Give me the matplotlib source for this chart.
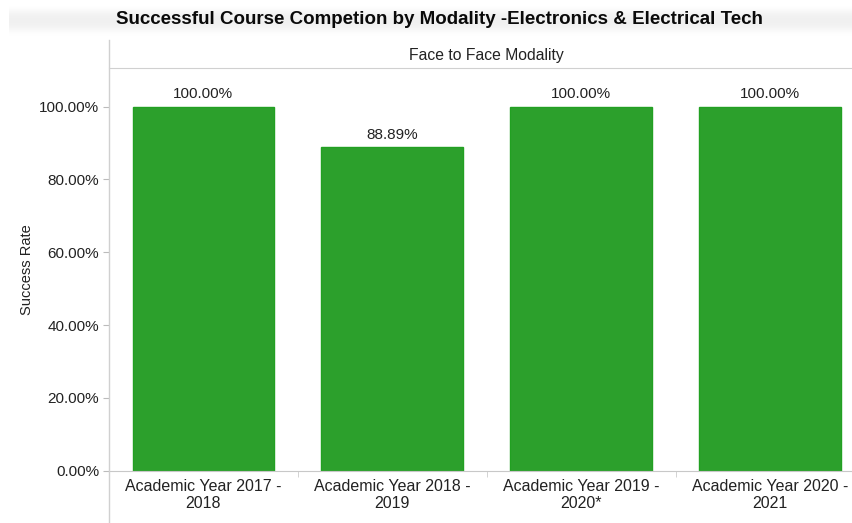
import matplotlib.pyplot as plt
import numpy as np

plt.rcParams['font.family'] = ['Liberation Sans', 'DejaVu Sans']

# Success rate per academic year (face to face)
years = ["Academic Year 2017 -\n2018", "Academic Year 2018 -\n2019",
         "Academic Year 2019 -\n2020*", "Academic Year 2020 -\n2021"]
rates = [100.00, 88.89, 100.00, 100.00]
yticks = [0, 20, 40, 60, 80, 100]

W, H = 852, 523
fig = plt.figure(figsize=(W / 100, H / 100), dpi=100)

# soft gray band behind the title
band = fig.add_axes([0.01, 1 - 36 / H, 0.99, 30 / H])
prof = np.array([0.0, 0.7, 1.0, 1.0, 0.7, 0.0])
band.imshow(prof[:, None] * np.ones((1, 40)), cmap='Greys', vmin=0, vmax=8,
            aspect='auto', interpolation='bicubic')
band.axis('off')

fig.text(0.5 * (113 + 765) / W, 1 - 20 / H,
         "Successful Course Competion by Modality -Electronics & Electrical Tech",
         ha='center', va='center', fontsize=13.5, fontweight='bold', color='#0a0a0a')

x0, x1 = 109, 864.5
y_top, y_bot = 68.3, 470.7
ax = fig.add_axes([x0 / W, 1 - y_bot / H, (x1 - x0) / W, (y_bot - y_top) / H])

pos = np.arange(len(years))
ax.bar(pos, rates, width=0.75, color='#2ca02c', edgecolor='#22a022', linewidth=1)
for p, r in zip(pos, rates):
    ax.text(p, r + 1.5, f"{r:.2f}%", ha='center', va='bottom', fontsize=11, color='#222222')

ax.set_xlim(-0.5, len(years) - 0.5)
ax.set_ylim(0, 110.5)
ax.set_yticks(yticks)
ax.set_yticklabels([f"{v:.2f}%" for v in yticks], fontsize=11, color='#222222')
ax.set_xticks(pos)
ax.set_xticklabels(years, fontsize=11.5, color='#222222', linespacing=1.15)
ax.set_xticks(pos[:-1] + 0.5, minor=True)
ax.tick_params(axis='x', which='major', length=0, pad=6)
ax.tick_params(axis='x', which='minor', length=4, color='#cccccc')
ax.tick_params(axis='y', length=4, color='#bbbbbb', pad=3)
ax.set_ylabel("Success Rate", fontsize=10.5, color='#222222', labelpad=4)
for s in ['top', 'right']:
    ax.spines[s].set_visible(False)
ax.spines['left'].set_visible(False)
ax.spines['bottom'].set_color('#c8c8c8')

# header strip for the modality facet
hdr = fig.add_axes([x0 / W, 1 - y_top / H, (x1 - x0) / W, (y_top - 40) / H])
hdr.set_xticks([])
hdr.set_yticks([])
for s in ['top', 'right', 'left']:
    hdr.spines[s].set_visible(False)
hdr.spines['bottom'].set_color('#d0d0d0')
hdr.text(0.5, 0.45, "Face to Face Modality", ha='center', va='center',
         fontsize=11.3, color='#222222', transform=hdr.transAxes)

# left divider running the full height of the panel
fig.add_artist(plt.Line2D([x0 / W, x0 / W], [0, 1 - 40 / H], color='#d0d0d0', lw=1))

fig.savefig("out.png", dpi=100)
